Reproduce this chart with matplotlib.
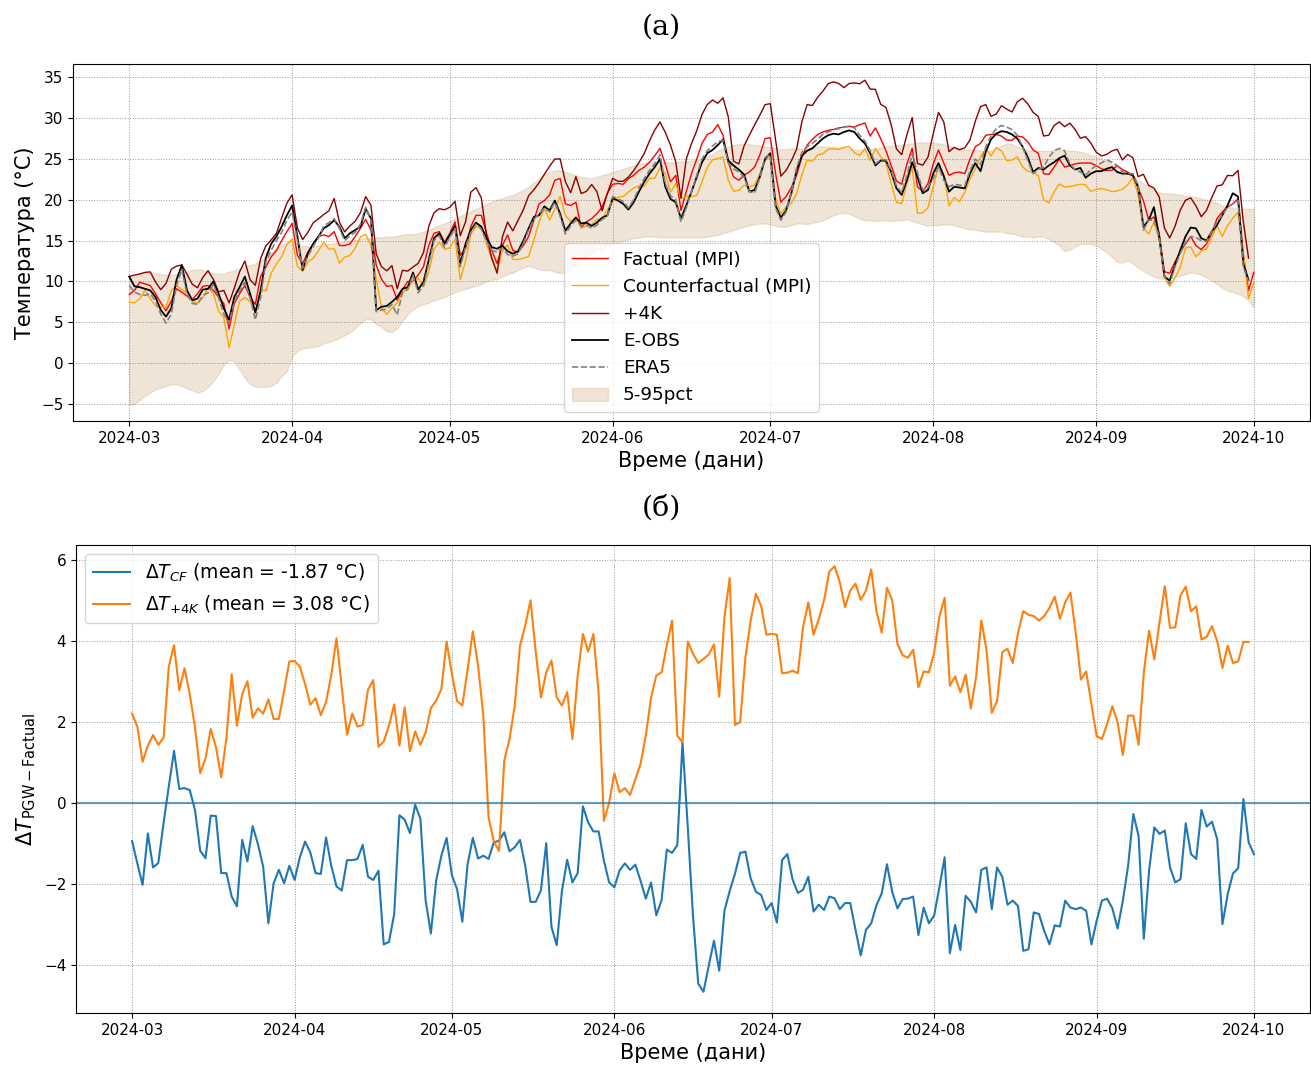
import numpy as np
import pandas as pd
import matplotlib
matplotlib.use("Agg")
import matplotlib.pyplot as plt
import matplotlib.dates as mdates

# daily values 2024-03-01 .. 2024-10-01
dates = pd.date_range("2024-03-01", "2024-10-01", freq="D")

factual = [
    # March
    8.4, 8.9, 9.9, 9.7, 9.5, 8.5, 7.4, 6.4, 7.6, 9.1, 8.7, 8.2, 7.8, 8.5, 9.4, 9.5,
    8.9, 8.1, 7.3, 4.2, 7.3, 8.5, 9.5, 8.1, 7.2, 10.6, 11.8, 13.0, 13.8, 15.0, 16.1,
    # April
    17.1, 13.2, 12.2, 13.6, 14.6, 15.5, 15.7, 15.5, 16.1, 14.4, 14.4, 14.6, 15.5, 16.5, 17.6,
    16.3, 12.0, 10.3, 9.4, 9.5, 7.7, 9.0, 10.0, 10.0, 10.8, 11.8, 14.4, 15.9, 16.1, 14.8,
    # May
    15.9, 17.3, 13.2, 14.0, 16.7, 18.1, 18.1, 15.9, 13.8, 12.2, 14.4, 15.7, 13.8, 13.6, 14.4,
    15.5, 17.5, 19.5, 19.9, 20.6, 22.4, 22.6, 19.5, 19.3, 19.7, 16.6, 17.3, 17.7, 18.3, 19.1, 20.8,
    # June
    21.9, 22.0, 21.9, 22.6, 23.0, 23.6, 24.0, 24.6, 25.4, 26.3, 24.4, 22.2, 23.0, 18.7, 21.0,
    23.2, 25.0, 26.9, 28.0, 28.3, 29.2, 27.9, 24.6, 22.8, 22.4, 23.0, 23.4, 24.0, 25.5, 27.5,
    # July
    27.6, 23.2, 19.7, 20.4, 21.5, 23.0, 25.2, 26.7, 27.4, 28.0, 28.3, 28.5, 28.6, 28.8, 28.9,
    29.0, 28.9, 29.2, 29.4, 27.8, 28.8, 27.5, 26.0, 24.2, 22.3, 21.9, 24.4, 26.3, 21.6, 21.0, 22.0,
    # August
    24.4, 26.1, 24.5, 23.0, 23.3, 23.4, 23.2, 25.0, 26.5, 26.9, 27.9, 28.0, 28.0, 27.8, 27.3,
    27.3, 27.8, 27.7, 27.1, 26.1, 25.7, 23.2, 23.1, 24.0, 25.0, 24.0, 24.2, 24.4, 24.5, 24.5, 24.5,
    # September
    24.2, 23.8, 23.6, 23.6, 24.2, 23.7, 23.4, 23.0, 21.4, 19.9, 17.5, 17.9, 15.9, 11.2, 11.0,
    12.4, 13.6, 14.6, 15.5, 14.4, 13.9, 14.6, 15.9, 17.7, 18.5, 19.1, 19.5, 20.1, 13.4, 8.9,
    # October 1
    11.1,
]

# Delta T (PGW - Factual), counterfactual run
d_cf = [
    -0.95, -1.5, -2.03, -0.76, -1.6, -1.49, -0.51, 0.4, 1.28, 0.34, 0.36, 0.31, -0.18, -1.19, -1.37,
    -0.32, -0.33, -1.74, -1.74, -2.32, -2.56, -0.92, -1.45, -0.58, -1.02, -1.58, -2.98, -1.99, -1.66,
    -1.99, -1.56,
    -1.91, -1.35, -0.96, -1.23, -1.74, -1.76, -0.86, -1.56, -2.07, -2.17, -1.42, -1.42, -1.39, -1.04,
    -1.83, -1.91, -1.68, -3.5, -3.44, -2.75, -0.31, -0.42, -0.75, -0.05, -0.4, -2.42, -3.23, -1.93,
    -1.31, -0.87,
    -1.79, -2.14, -2.94, -1.52, -0.87, -1.38, -1.31, -1.39, -0.98, -0.94, -0.73, -1.2, -1.1, -0.92,
    -1.56, -2.45, -2.45, -2.16, -1.0, -3.07, -3.52, -2.18, -1.41, -1.97, -1.74, -0.09, -0.49, -0.71,
    -0.71, -1.43, -1.97,
    -2.09, -1.67, -1.5, -1.66, -1.53, -1.93, -2.37, -1.97, -2.78, -2.41, -1.16, -1.24, -1.05, 1.49,
    -0.6, -2.8, -4.47, -4.67, -4.03, -3.41, -4.15, -2.67, -2.18, -1.76, -1.24, -1.21, -1.87, -2.2,
    -2.28, -2.65,
    -2.48, -2.96, -1.42, -1.27, -1.9, -2.23, -2.15, -1.83, -2.69, -2.52, -2.65, -2.32, -2.36, -2.63,
    -2.48, -2.48, -3.14, -3.77, -3.14, -2.98, -2.53, -2.24, -1.52, -2.2, -2.61, -2.38, -2.37, -2.32,
    -3.27, -2.59, -2.98,
    -2.79, -2.09, -1.35, -3.72, -3.02, -3.64, -2.3, -2.45, -2.71, -1.66, -1.6, -2.63, -1.6, -1.83,
    -2.52, -2.42, -2.55, -3.66, -3.62, -2.71, -2.75, -3.17, -3.5, -3.03, -3.06, -2.42, -2.59, -2.63,
    -2.59, -2.67, -3.5,
    -2.92, -2.42, -2.37, -2.61, -3.11, -2.42, -1.56, -0.28, -0.82, -3.36, -1.68, -0.61, -0.77, -0.69,
    -1.6, -1.97, -1.89, -0.51, -1.27, -1.39, -0.18, -0.59, -0.47, -0.9, -3.0, -2.26, -1.75, -1.62,
    0.09, -0.98,
    -1.27,
]

# Delta T (PGW - Factual), +4K run (ends 2024-09-30)
d_4k = [
    2.2, 1.88, 1.01, 1.41, 1.67, 1.43, 1.6, 3.36, 3.89, 2.78, 3.32, 2.68, 1.86, 0.73, 1.09, 1.82,
    1.37, 0.63, 1.6, 3.17, 1.9, 2.68, 3.0, 2.1, 2.33, 2.2, 2.55, 2.07, 2.07, 2.77, 3.49,
    3.5, 3.36, 2.93, 2.42, 2.58, 2.16, 2.49, 3.16, 4.06, 2.85, 1.68, 2.2, 1.88, 1.92, 2.79, 3.03,
    1.38, 1.51, 1.9, 2.43, 1.41, 2.36, 1.27, 1.76, 1.43, 1.74, 2.34, 2.52, 2.81, 3.98,
    3.18, 2.51, 2.4, 3.29, 4.23, 3.39, 2.15, -0.36, -0.96, -1.19, 1.04, 1.57, 2.4, 3.88, 4.38, 5.0,
    3.72, 2.6, 3.22, 3.51, 2.6, 2.4, 2.73, 1.57, 3.14, 4.17, 3.73, 4.17, 2.7, -0.45, 0.0,
    0.73, 0.26, 0.36, 0.19, 0.58, 0.96, 1.66, 2.6, 3.14, 3.22, 3.88, 4.5, 1.66, 1.49, 3.98, 3.68,
    3.45, 3.55, 3.66, 3.91, 2.62, 4.58, 5.55, 1.92, 1.99, 3.59, 4.5, 5.16, 4.86, 4.15,
    4.17, 4.15, 3.2, 3.21, 3.26, 3.2, 4.34, 4.95, 4.15, 4.54, 5.0, 5.71, 5.84, 5.45, 4.83, 5.24,
    5.41, 5.01, 5.24, 5.76, 4.72, 4.2, 5.31, 5.0, 3.92, 3.64, 3.58, 3.78, 2.85, 3.24, 3.22,
    3.7, 4.6, 5.06, 2.89, 3.12, 2.73, 3.16, 2.33, 3.1, 4.5, 3.76, 2.22, 2.51, 3.72, 3.8, 3.45,
    4.2, 4.73, 4.64, 4.61, 4.5, 4.61, 4.81, 5.09, 4.54, 4.95, 5.19, 4.21, 3.04, 3.24, 2.44,
    1.64, 1.57, 1.95, 2.38, 1.99, 1.18, 2.15, 2.15, 1.43, 3.22, 4.25, 3.54, 4.46, 5.35, 4.32,
    4.33, 5.12, 5.34, 4.73, 4.85, 4.03, 4.1, 4.36, 3.99, 3.33, 3.88, 3.45, 3.49, 3.97, 3.97,
]

# observations (end 2024-09-30)
eobs = [
    10.6, 9.4, 9.3, 9.1, 8.9, 8.1, 6.5, 5.7, 6.7, 10.2, 12.0, 8.9, 7.7, 7.9, 9.0, 9.1, 10.0, 8.5,
    6.7, 5.3, 8.1, 9.3, 10.6, 8.5, 6.2, 8.8, 12.9, 14.6, 15.5, 16.7, 18.1,
    19.3, 15.5, 11.4, 13.4, 14.6, 15.5, 16.5, 16.9, 17.5, 16.7, 15.3, 15.9, 16.3, 16.7, 18.9,
    17.7, 6.5, 6.9, 7.0, 7.5, 8.1, 9.1, 9.3, 11.1, 9.0, 9.95, 12.6, 15.3, 15.9, 14.6,
    15.7, 16.8, 12.2, 14.6, 16.3, 17.2, 16.7, 15.3, 14.2, 14.0, 14.4, 13.7, 13.4, 13.7, 15.0,
    16.5, 17.9, 18.1, 19.2, 18.7, 19.9, 18.3, 16.2, 17.1, 17.8, 17.1, 17.2, 16.8, 17.2, 17.8, 18.1,
    20.2, 19.9, 19.5, 18.8, 19.7, 21.0, 22.2, 23.2, 24.0, 25.0, 21.6, 20.1, 19.7, 17.7, 19.3,
    21.0, 22.8, 24.6, 25.7, 26.1, 26.7, 27.4, 24.8, 24.2, 23.7, 23.1, 21.0, 21.2, 22.8, 25.0,
    25.7, 19.3, 17.8, 18.7, 20.8, 23.6, 25.4, 26.0, 26.3, 26.9, 27.5, 27.9, 28.1, 28.0, 28.3,
    28.5, 28.3, 27.5, 26.9, 25.7, 24.2, 24.8, 24.8, 23.4, 21.4, 20.6, 22.4, 24.6, 22.8, 20.8, 21.2,
    23.2, 24.5, 22.9, 21.0, 21.6, 21.5, 21.4, 23.2, 24.5, 23.5, 25.9, 27.4, 28.1, 28.4, 28.3,
    28.0, 27.5, 26.5, 25.2, 23.4, 23.9, 23.7, 24.2, 24.6, 25.1, 25.4, 24.2, 23.7, 23.9, 22.7, 23.2,
    23.5, 23.5, 23.8, 24.0, 23.4, 23.2, 23.2, 23.0, 21.6, 16.7, 17.5, 19.1, 15.5, 10.6, 10.1,
    12.0, 13.8, 15.5, 16.6, 16.5, 15.3, 15.0, 16.1, 16.9, 18.1, 19.3, 20.8, 20.4, 12.2, 10.2,
]

era5 = [
    9.5, 8.7, 8.4, 8.3, 8.5, 7.6, 6.0, 4.9, 6.0, 9.5, 11.5, 8.4, 7.3, 7.2, 8.3, 8.6, 9.6, 8.0,
    6.0, 4.9, 7.5, 8.8, 9.9, 8.0, 5.3, 8.0, 12.4, 13.8, 15.0, 16.0, 17.5,
    18.5, 15.0, 11.6, 13.1, 14.3, 15.3, 16.8, 17.2, 17.7, 16.5, 15.0, 15.6, 16.0, 17.0, 19.1,
    17.5, 6.3, 6.5, 6.6, 7.2, 5.9, 8.7, 9.0, 10.8, 8.6, 9.5, 12.2, 15.0, 15.6, 14.2,
    15.4, 16.5, 11.8, 14.2, 16.0, 17.0, 16.4, 14.9, 13.8, 13.6, 14.1, 13.3, 13.1, 13.4, 14.7,
    16.3, 17.6, 18.3, 19.0, 18.5, 19.7, 18.0, 15.8, 16.8, 17.5, 16.8, 16.9, 16.5, 16.9, 17.6, 18.0,
    20.4, 20.1, 19.8, 19.0, 20.0, 21.4, 22.6, 23.6, 24.4, 25.5, 22.0, 20.5, 20.0, 17.3, 19.0,
    21.0, 23.0, 25.0, 26.0, 26.6, 27.1, 27.3, 24.5, 23.8, 23.4, 22.8, 21.0, 20.8, 22.7, 25.2,
    25.5, 19.0, 17.5, 18.5, 20.9, 23.9, 25.8, 26.5, 26.9, 27.4, 28.0, 28.3, 28.6, 28.7, 28.9,
    29.0, 28.8, 27.9, 27.2, 26.0, 24.4, 24.9, 24.9, 23.6, 21.7, 20.9, 23.0, 25.6, 23.3, 21.2, 21.5,
    22.6, 24.0, 22.4, 21.6, 21.9, 21.8, 21.7, 23.6, 25.0, 24.3, 26.5, 27.8, 28.7, 29.1, 28.9,
    28.6, 27.9, 26.5, 24.8, 23.2, 23.7, 24.0, 25.2, 26.0, 26.3, 26.0, 24.4, 23.7, 23.4, 23.0, 23.7,
    24.2, 24.5, 24.9, 24.6, 24.2, 23.4, 23.2, 23.2, 21.6, 16.3, 17.5, 17.5, 15.5, 10.6, 9.7,
    11.8, 13.4, 14.8, 15.5, 15.4, 15.0, 14.9, 16.1, 17.3, 18.1, 19.1, 19.5, 19.9, 11.8, 10.0,
]

# 5th / 95th percentile envelope
p5 = [
    -5.1, -5.0, -4.5, -4.0, -3.6, -3.2, -3.0, -2.8, -2.6, -2.6, -2.8, -3.1, -3.3, -3.6, -3.4, -2.9,
    -2.2, -1.3, -0.2, 0.4, 0.2, -0.8, -1.8, -2.6, -2.9, -2.9, -2.9, -2.8, -2.4, -1.6, -1.0,
    0.8, 1.5, 1.8, 1.9, 2.0, 2.1, 2.4, 2.6, 2.8, 3.1, 3.4, 3.8, 4.3, 4.9, 5.4, 5.4, 4.8, 4.4,
    3.9, 3.8, 4.3, 5.2, 6.0, 6.6, 7.0, 7.2, 7.4, 7.7, 7.9, 8.1,
    8.4, 8.7, 8.9, 9.1, 9.3, 9.5, 9.7, 10.0, 10.2, 10.3, 10.6, 10.9, 11.1, 11.4, 11.7, 11.9,
    11.7, 11.5, 11.4, 11.4, 11.2, 11.0, 11.1, 11.5, 12.0, 12.5, 13.0, 13.4, 13.8, 14.1, 14.4,
    14.6, 14.8, 15.0, 15.1, 15.3, 15.4, 15.5, 15.5, 15.5, 15.4, 15.4, 15.4, 15.4, 15.4, 15.4,
    15.4, 15.4, 15.4, 15.5, 15.6, 15.7, 15.9, 16.1, 16.3, 16.5, 16.7, 16.9, 17.0, 17.1, 17.1,
    17.0, 16.8, 16.7, 16.7, 16.9, 17.1, 17.1, 17.0, 17.2, 17.3, 17.5, 17.8, 18.1, 18.3, 18.4,
    18.3, 18.0, 17.7, 17.5, 17.5, 17.4, 17.5, 17.5, 17.4, 17.5, 17.5, 17.6, 17.4, 17.2, 17.0, 16.8,
    16.9, 16.9, 17.0, 17.0, 16.9, 16.7, 16.5, 16.4, 16.3, 16.2, 16.1, 16.1, 16.1, 16.1, 15.9,
    15.9, 15.7, 15.5, 15.5, 15.4, 15.5, 15.5, 15.2, 14.8, 14.4, 13.7, 13.9, 14.3, 14.6, 14.6, 14.6,
    14.4, 14.0, 13.6, 13.0, 12.4, 12.3, 12.6, 12.2, 11.7, 11.3, 10.9, 10.6, 10.4, 10.3, 10.4,
    10.5, 10.7, 10.9, 11.1, 11.0, 10.8, 10.5, 10.1, 9.7, 9.2, 8.9, 8.7, 8.5, 8.2, 7.7,
    6.8,
]

p95 = [
    10.4, 10.6, 10.8, 11.0, 11.0, 11.0, 10.9, 10.8, 10.8, 10.9, 11.0, 11.2, 11.4, 11.5, 11.4, 11.2,
    11.0, 10.9, 11.0, 11.2, 11.4, 11.6, 11.9, 12.0, 12.2, 12.6, 13.0, 13.5, 14.0, 14.4, 14.8,
    15.0, 14.6, 14.4, 14.3, 14.3, 14.4, 14.5, 14.6, 14.7, 14.8, 14.9, 15.0, 15.1, 15.2, 15.3,
    15.3, 15.4, 15.4, 15.5, 15.5, 15.6, 15.7, 15.8, 15.8, 15.9, 16.1, 16.3, 16.6, 16.9, 17.1,
    17.4, 17.7, 18.0, 18.3, 18.6, 18.9, 19.2, 19.5, 19.8, 20.0, 20.2, 20.4, 20.6, 20.9, 21.2,
    21.6, 22.1, 22.6, 23.1, 23.4, 23.6, 23.6, 23.4, 23.2, 23.0, 22.8, 22.7, 22.6, 22.8, 23.0, 23.2,
    23.4, 23.6, 23.8, 24.0, 24.2, 24.4, 24.5, 24.6, 24.6, 24.6, 24.6, 24.6, 24.6, 24.7, 24.7,
    24.8, 24.8, 24.9, 25.2, 25.6, 26.0, 26.3, 26.5, 26.7, 26.8, 26.9, 26.8, 26.7, 26.6, 26.5,
    26.4, 26.3, 26.2, 26.2, 26.3, 26.3, 26.3, 26.4, 26.4, 26.5, 26.5, 26.5, 26.5, 26.4, 26.3,
    26.2, 26.1, 26.1, 26.1, 26.2, 26.3, 26.4, 26.5, 26.6, 26.7, 26.7, 26.8, 26.9, 27.0, 27.0, 27.0,
    27.0, 26.9, 26.8, 26.6, 26.4, 26.2, 26.1, 26.1, 26.1, 26.0, 26.0, 26.0, 26.3, 26.6, 26.9,
    26.8, 26.5, 26.2, 26.1, 26.0, 26.0, 26.0, 26.0, 26.1, 26.1, 26.1, 26.0, 26.0, 25.9, 25.7, 25.5,
    25.3, 25.0, 24.7, 24.4, 24.0, 23.7, 23.3, 22.9, 22.4, 22.0, 21.6, 21.2, 20.9, 20.8, 20.8,
    20.7, 20.6, 20.5, 20.4, 20.3, 20.2, 20.0, 19.8, 19.6, 19.3, 19.1, 19.0, 18.9, 18.9, 18.9,
    18.9,
]

mean_cf_label = "-1.87"
mean_4k_label = "3.08"

# PGW runs = factual + delta (the deltas are what panel (б) shows)
factual = np.array(factual)
d_cf = np.array(d_cf)
d_4k = np.array(d_4k)
counterfactual = factual + d_cf
plus4k = factual[:len(d_4k)] + d_4k

fig = plt.figure(figsize=(13.11, 10.66), dpi=100)
ax1 = fig.add_axes([73 / 1311, 1 - 421 / 1066, 1237 / 1311, 357 / 1066])
ax2 = fig.add_axes([76 / 1311, 1 - 1013 / 1066, 1234 / 1311, 468 / 1066])

# --- panel (а): temperatures
band = ax1.fill_between(dates, p5, p95, color="tan", alpha=0.35, label="5-95pct")
l_f, = ax1.plot(dates, factual, color="red", lw=1.0, label="Factual (MPI)")
l_cf, = ax1.plot(dates, counterfactual, color="orange", lw=1.0, label="Counterfactual (MPI)")
l_4k, = ax1.plot(dates[:len(plus4k)], plus4k, color="darkred", lw=1.0, label="+4K")
l_eo, = ax1.plot(dates[:len(eobs)], eobs, color="black", lw=1.3, label="E-OBS")
l_er, = ax1.plot(dates[:len(era5)], era5, color="gray", ls="--", lw=1.2, label="ERA5")
ax1.legend(handles=[l_f, l_cf, l_4k, l_eo, l_er, band], loc="lower center", fontsize=13.2)
ax1.set_xlabel("Време (дани)", fontsize=15)
ax1.set_ylabel("Температура (°C)", fontsize=15)

# --- panel (б): differences
ax2.plot(dates, d_cf, color="C0", lw=1.5,
         label=r"$\Delta T_{CF}$ (mean = " + mean_cf_label + " °C)")
ax2.plot(dates[:len(d_4k)], d_4k, color="C1", lw=1.5,
         label=r"$\Delta T_{+4K}$ (mean = " + mean_4k_label + " °C)")
ax2.axhline(0, color="C0", alpha=0.7, lw=1.5)
ax2.legend(loc="upper left", fontsize=13.5)
ax2.set_xlabel("Време (дани)", fontsize=15)
ax2.set_ylabel(r"$\Delta T_{\mathrm{PGW-Factual}}$", fontsize=15)

for ax in (ax1, ax2):
    ax.xaxis.set_major_locator(mdates.MonthLocator())
    ax.xaxis.set_major_formatter(mdates.DateFormatter("%Y-%m"))
    ax.tick_params(labelsize=11)
    ax.grid(True, linestyle=":", linewidth=0.7, color="gray", alpha=0.8)

fig.text(661 / 1311, 1 - 27 / 1066, "(а)", family="DejaVu Serif", fontsize=20.5,
         ha="center", va="center")
fig.text(661 / 1311, 1 - 508 / 1066, "(б)", family="DejaVu Serif", fontsize=20.5,
         ha="center", va="center")

fig.savefig("out.png", dpi=100)
